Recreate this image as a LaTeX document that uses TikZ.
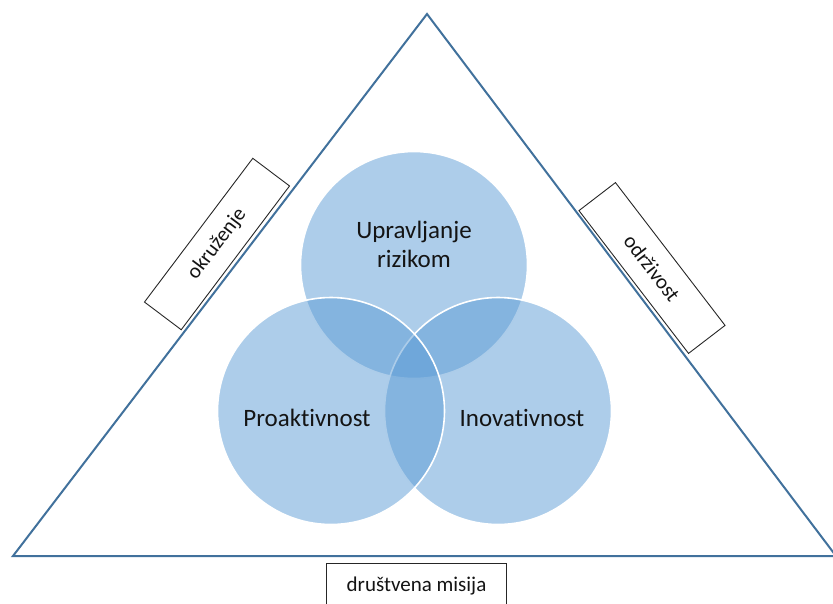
\documentclass[tikz,border=0pt]{standalone}
\usepackage{fontspec}
\setmainfont{Carlito}[Ligatures=NoCommon]
\definecolor{vennblue}{RGB}{91,155,213}
\definecolor{triline}{RGB}{65,113,156}
\definecolor{txt}{RGB}{20,20,20}
\tikzset{
  venn/.style={circle, minimum size=227pt, inner sep=0pt, fill=vennblue, fill opacity=0.5, draw=white, draw opacity=1, line width=1.6pt},
  vlabel/.style={text=txt, font=\fontsize{25}{29}\selectfont, align=center},
  sidebox/.style={draw=black!85, line width=0.9pt, fill=white, minimum width=180pt, minimum height=46pt, inner sep=0pt, text=txt, font=\fontsize{21}{25}\selectfont},
  tri/.style={draw=triline, line width=2pt}
}
\begin{document}
\begin{tikzpicture}[x=1pt,y=-1pt]
\useasboundingbox (0,0) rectangle (833,603);
\begin{scope}
\clip (0,0) rectangle (833,603);
\coordinate (apex) at (427,14);
\coordinate (bl) at (13,556);
\coordinate (br) at (836,556);
\draw[tri] (bl) -- (apex) -- (br) -- cycle;
\node[venn] (top) at (414,265) {};
\node[venn] (right) at (498,411) {};
\node[venn] (left) at (331,411) {};
\node[vlabel] (lt) at (414,244) {Upravljanje\\rizikom};
\node[vlabel] (ll) at (307,418) {Proaktivnost};
\node[vlabel] (lr) at (522,418) {Inovativnost};
\node[sidebox, rotate=53] (okr) at (217,244) {okruženje};
\node[sidebox, rotate=-52.5] (odr) at (652,268) {održivost};
\node[sidebox, anchor=north] (dru) at (416.5,563) {društvena misija};
\end{scope}
\end{tikzpicture}
\end{document}
